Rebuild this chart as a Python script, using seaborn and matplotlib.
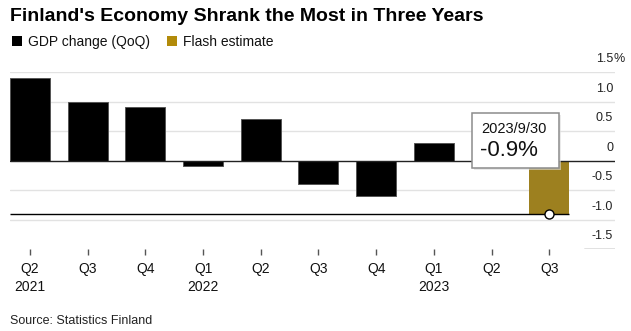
import matplotlib
matplotlib.use("Agg")
import matplotlib.pyplot as plt
import matplotlib.transforms as mtransforms
from matplotlib.patches import Rectangle
import pandas as pd
import seaborn as sns

# Quarterly GDP change, quarter-on-quarter, percent
quarters = ["Q2", "Q3", "Q4", "Q1", "Q2", "Q3", "Q4", "Q1", "Q2", "Q3"]
years = ["2021", "", "", "2022", "", "", "", "2023", "", ""]
gdp_change = [1.4, 1.0, 0.9, -0.1, 0.7, -0.4, -0.6, 0.3, 0.0, -0.9]
series = ["GDP change (QoQ)"] * 9 + ["Flash estimate"]

y_ticks = [1.5, 1.0, 0.5, 0.0, -0.5, -1.0, -1.5]
y_tick_labels = ["1.5", "1.0", "0.5", "0", "-0.5", "-1.0", "-1.5"]

callout_date = "2023/9/30"

colors = {"GDP change (QoQ)": "#000000", "Flash estimate": "#B28B0A"}

sns.set_theme(style="white")
plt.rcParams["font.family"] = ["Liberation Sans", "DejaVu Sans"]

period = [f"{q} {y}" if y else f"{q}-{i}" for i, (q, y) in enumerate(zip(quarters, years))]
df = pd.DataFrame({"period": period, "gdp": gdp_change, "series": series})

W, H = 631, 331
fig = plt.figure(figsize=(W / 100, H / 100), dpi=100)
fig.patch.set_facecolor("white")

def fx(px):
    return px / W

def fy(py):
    return 1 - py / H

ax_left, ax_right, ax_top, ax_bottom = 10, 615, 72, 249
ax = fig.add_axes([fx(ax_left), fy(ax_bottom), fx(ax_right - ax_left), (ax_bottom - ax_top) / H])
ax.set_facecolor("white")

bar_width = 0.693
sns.barplot(data=df, x="period", y="gdp", hue="series", palette=colors,
            dodge=False, width=bar_width, ax=ax, legend=False, zorder=3,
            edgecolor="#555555", linewidth=0.7)
for p in ax.patches:
    if p.get_facecolor()[0] > 0.5:
        p.set_edgecolor("none")

ax.set_xlim(-0.347, 10.14)
ax.set_ylim(-1.5, 1.5)
for s in ax.spines.values():
    s.set_visible(False)

# Horizontal gridlines
for v in y_ticks:
    if v == 0:
        ax.axhline(v, color="#222222", lw=1.0, zorder=4)
    elif v == y_ticks[-1]:
        ax.axhline(v, xmin=0.949, xmax=1.0, color="#666666", lw=1.0, zorder=2)
    else:
        ax.axhline(v, color="#e2e2e2", lw=1.0, zorder=1)

# Y labels above gridlines on the right, percent sign hanging past the edge
ylab_tr = mtransforms.offset_copy(ax.get_yaxis_transform(), fig=fig, x=0, y=7.0, units="points")
for v, lab in zip(y_ticks, y_tick_labels):
    ax.text(0.9967, v, lab, transform=ylab_tr, ha="right", va="baseline",
            fontsize=9, color="#222222")
ax.text(0.9967, y_ticks[0], "%", transform=ylab_tr, ha="left", va="baseline",
        fontsize=9, color="#222222")
ax.set_yticks([])
ax.set_ylabel("")
ax.set_xlabel("")

# X ticks and two-line labels
ax.set_xticks(range(len(quarters)))
ax.set_xticklabels([f"{q}\n{y}" if y else q for q, y in zip(quarters, years)],
                   fontsize=10, color="#111111", linespacing=1.45)
ax.tick_params(axis="x", which="both", bottom=True, length=4, width=1,
               color="#555555", pad=5, direction="out")
for lab in ax.get_xticklabels():
    lab.set_verticalalignment("top")

# Flash estimate marker line and point
last = len(gdp_change) - 1
ax.hlines(gdp_change[last], xmin=-0.347, xmax=last + bar_width / 2,
          color="#000000", lw=1.0, zorder=4)
ax.plot(last, gdp_change[last], "o", ms=6.5, mfc="white", mec="#000000",
        mew=1.0, zorder=6)

# Callout box
box_l, box_r, box_t, box_b = 472, 559, 113, 168
fig.patches.append(Rectangle((fx(box_l + 2), fy(box_b + 2)), fx(box_r - box_l), (box_b - box_t) / H,
                             transform=fig.transFigure, facecolor="#dddddd",
                             edgecolor="none", zorder=9, alpha=0.6))
fig.patches.append(Rectangle((fx(box_l), fy(box_b)), fx(box_r - box_l), (box_b - box_t) / H,
                             transform=fig.transFigure, facecolor="white",
                             edgecolor="#8c8c8c", lw=1.1, zorder=10))
fig.text(fx(481), fy(133), callout_date, fontsize=10.5, color="#111111",
         va="baseline", ha="left", zorder=11)
fig.text(fx(480), fy(156), f"{gdp_change[last]:.1f}%", fontsize=16, color="#111111",
         va="baseline", ha="left", zorder=11)

# Title
fig.text(fx(10), fy(21), "Finland's Economy Shrank the Most in Three Years",
         fontsize=14, fontweight="bold", color="#000000", va="baseline", ha="left")

# Legend
sq = 10
for x0, name in [(12, "GDP change (QoQ)"), (167, "Flash estimate")]:
    fig.patches.append(Rectangle((fx(x0), fy(46)), fx(sq), sq / H,
                                 transform=fig.transFigure, facecolor=colors[name],
                                 edgecolor="none"))
    fig.text(fx(x0 + 16), fy(46), name, fontsize=10, color="#111111",
             va="baseline", ha="left")

# Source
fig.text(fx(10), fy(324), "Source: Statistics Finland", fontsize=9,
         color="#222222", va="baseline", ha="left")

fig.savefig("out.png", dpi=100, facecolor="white")
